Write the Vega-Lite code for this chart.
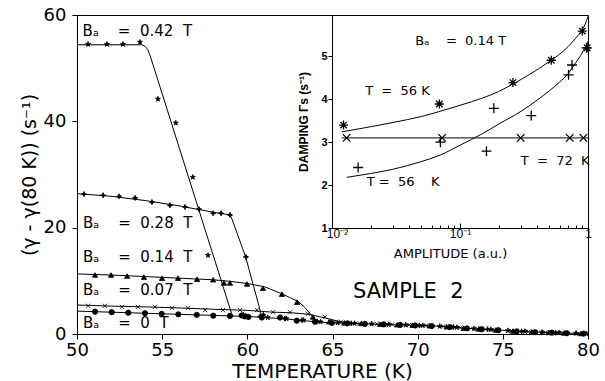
{
  "$schema": "https://vega.github.io/schema/vega-lite/v6.json",
  "width": 511,
  "height": 319,
  "autosize": {"type": "none"},
  "padding": {"left": 77, "top": 15, "right": 17, "bottom": 47},
  "background": "white",
  "config": {
    "view": {"stroke": "black", "strokeWidth": 1},
    "font": "DejaVu Sans",
    "axis": {"domainColor": "black", "tickColor": "black", "labelColor": "black", "titleColor": "black", "grid": false, "domainWidth": 1, "tickWidth": 1}
  },
  "datasets": {
    "mainLines": [
      {"s": "A", "T": 50.0, "Y": 54.4}, {"s": "A", "T": 53.8, "Y": 54.4}, {"s": "A", "T": 54.0, "Y": 54.1}, {"s": "A", "T": 54.15, "Y": 53.5}, {"s": "A", "T": 54.3, "Y": 52.3}, {"s": "A", "T": 59.1, "Y": 3.6},
      {"s": "B", "T": 50.0, "Y": 26.4}, {"s": "B", "T": 52.0, "Y": 25.9}, {"s": "B", "T": 54.0, "Y": 25.1}, {"s": "B", "T": 56.0, "Y": 24.1}, {"s": "B", "T": 58.0, "Y": 22.9}, {"s": "B", "T": 58.98, "Y": 22.4}, {"s": "B", "T": 59.1, "Y": 21.6}, {"s": "B", "T": 59.9, "Y": 14.5}, {"s": "B", "T": 60.85, "Y": 3.3},
      {"s": "C", "T": 50.0, "Y": 11.3}, {"s": "C", "T": 52.0, "Y": 11.1}, {"s": "C", "T": 54.0, "Y": 10.8}, {"s": "C", "T": 56.0, "Y": 10.5}, {"s": "C", "T": 58.0, "Y": 10.2}, {"s": "C", "T": 59.0, "Y": 9.9}, {"s": "C", "T": 60.0, "Y": 9.5}, {"s": "C", "T": 61.0, "Y": 8.9}, {"s": "C", "T": 62.0, "Y": 7.6}, {"s": "C", "T": 63.0, "Y": 6.1}, {"s": "C", "T": 63.4, "Y": 4.9}, {"s": "C", "T": 63.8, "Y": 3.4},
      {"s": "D", "T": 50.0, "Y": 5.45}, {"s": "D", "T": 52.0, "Y": 5.25}, {"s": "D", "T": 54.0, "Y": 5.1}, {"s": "D", "T": 56.0, "Y": 4.9}, {"s": "D", "T": 58.0, "Y": 4.65}, {"s": "D", "T": 60.0, "Y": 4.45}, {"s": "D", "T": 61.5, "Y": 4.1}, {"s": "D", "T": 62.6, "Y": 4.0}, {"s": "D", "T": 63.6, "Y": 3.7}, {"s": "D", "T": 64.6, "Y": 3.0}, {"s": "D", "T": 65.4, "Y": 2.35}, {"s": "D", "T": 66.0, "Y": 2.05},
      {"s": "E", "T": 50.0, "Y": 4.3}, {"s": "E", "T": 52.0, "Y": 4.1}, {"s": "E", "T": 54.0, "Y": 3.9}, {"s": "E", "T": 56.0, "Y": 3.7}, {"s": "E", "T": 58.0, "Y": 3.5}, {"s": "E", "T": 59.0, "Y": 3.4}, {"s": "E", "T": 60.0, "Y": 3.3}, {"s": "E", "T": 61.0, "Y": 3.1}, {"s": "E", "T": 62.0, "Y": 2.9}, {"s": "E", "T": 63.0, "Y": 2.6}, {"s": "E", "T": 64.0, "Y": 2.3}, {"s": "E", "T": 65.0, "Y": 2.1}, {"s": "E", "T": 66.0, "Y": 2.0}, {"s": "E", "T": 67.0, "Y": 1.9}, {"s": "E", "T": 68.0, "Y": 1.8}, {"s": "E", "T": 69.0, "Y": 1.7}, {"s": "E", "T": 70.0, "Y": 1.6}, {"s": "E", "T": 71.0, "Y": 1.5}, {"s": "E", "T": 72.0, "Y": 1.3}, {"s": "E", "T": 73.0, "Y": 1.05}, {"s": "E", "T": 74.0, "Y": 0.85}, {"s": "E", "T": 75.0, "Y": 0.7}, {"s": "E", "T": 76.0, "Y": 0.5}, {"s": "E", "T": 77.0, "Y": 0.35}, {"s": "E", "T": 78.0, "Y": 0.25}, {"s": "E", "T": 79.0, "Y": 0.15}, {"s": "E", "T": 80.0, "Y": 0.05}
    ],
    "mainPts": [
      {"s": "A", "T": 50.65, "Y": 54.5}, {"s": "A", "T": 51.76, "Y": 54.5}, {"s": "A", "T": 52.7, "Y": 54.5}, {"s": "A", "T": 53.7, "Y": 54.9}, {"s": "A", "T": 54.75, "Y": 44.2}, {"s": "A", "T": 55.8, "Y": 39.7}, {"s": "A", "T": 56.8, "Y": 29.5}, {"s": "A", "T": 57.69, "Y": 14.8}, {"s": "A", "T": 59.77, "Y": 3.6}, {"s": "A", "T": 59.96, "Y": 3.3},
      {"s": "A", "T": 61.2, "Y": 3.1}, {"s": "A", "T": 62.3, "Y": 2.9}, {"s": "A", "T": 63.3, "Y": 2.6}, {"s": "A", "T": 64.3, "Y": 2.3}, {"s": "A", "T": 65.3, "Y": 2.1}, {"s": "A", "T": 66.3, "Y": 2.0}, {"s": "A", "T": 67.3, "Y": 1.9}, {"s": "A", "T": 68.3, "Y": 1.8}, {"s": "A", "T": 69.3, "Y": 1.7}, {"s": "A", "T": 70.3, "Y": 1.6}, {"s": "A", "T": 71.3, "Y": 1.45}, {"s": "A", "T": 72.3, "Y": 1.25}, {"s": "A", "T": 73.3, "Y": 1.0}, {"s": "A", "T": 74.3, "Y": 0.85}, {"s": "A", "T": 75.3, "Y": 0.65}, {"s": "A", "T": 76.3, "Y": 0.5}, {"s": "A", "T": 77.3, "Y": 0.35}, {"s": "A", "T": 78.3, "Y": 0.25}, {"s": "A", "T": 79.3, "Y": 0.15}, {"s": "A", "T": 79.9, "Y": 0.05},
      {"s": "B", "T": 50.41, "Y": 26.3}, {"s": "B", "T": 51.53, "Y": 26.1}, {"s": "B", "T": 52.47, "Y": 25.9}, {"s": "B", "T": 53.41, "Y": 25.6}, {"s": "B", "T": 54.4, "Y": 24.8}, {"s": "B", "T": 55.46, "Y": 24.2}, {"s": "B", "T": 56.34, "Y": 23.9}, {"s": "B", "T": 57.16, "Y": 23.5}, {"s": "B", "T": 57.99, "Y": 22.7}, {"s": "B", "T": 58.46, "Y": 22.7}, {"s": "B", "T": 58.98, "Y": 22.4}, {"s": "B", "T": 59.92, "Y": 14.5}, {"s": "B", "T": 60.75, "Y": 3.3}, {"s": "B", "T": 60.94, "Y": 3.6}, {"s": "B", "T": 62.2, "Y": 2.9}, {"s": "B", "T": 63.2, "Y": 2.6},
      {"s": "B", "T": 64.1, "Y": 2.35}, {"s": "B", "T": 66.1, "Y": 2.0}, {"s": "B", "T": 68.1, "Y": 1.8}, {"s": "B", "T": 70.1, "Y": 1.6}, {"s": "B", "T": 72.1, "Y": 1.3}, {"s": "B", "T": 74.1, "Y": 0.9}, {"s": "B", "T": 76.1, "Y": 0.5}, {"s": "B", "T": 78.1, "Y": 0.25},
      {"s": "C", "T": 51.06, "Y": 11.1}, {"s": "C", "T": 52.0, "Y": 11.1}, {"s": "C", "T": 52.94, "Y": 10.9}, {"s": "C", "T": 53.93, "Y": 10.7}, {"s": "C", "T": 54.99, "Y": 10.5}, {"s": "C", "T": 55.93, "Y": 10.5}, {"s": "C", "T": 57.05, "Y": 10.3}, {"s": "C", "T": 57.99, "Y": 10.2}, {"s": "C", "T": 58.63, "Y": 9.6}, {"s": "C", "T": 58.98, "Y": 9.6}, {"s": "C", "T": 59.98, "Y": 9.4}, {"s": "C", "T": 60.92, "Y": 8.6}, {"s": "C", "T": 62.03, "Y": 7.5}, {"s": "C", "T": 62.92, "Y": 6.0},
      {"s": "C", "T": 63.85, "Y": 3.2}, {"s": "C", "T": 64.8, "Y": 2.3}, {"s": "C", "T": 65.7, "Y": 2.1}, {"s": "C", "T": 66.7, "Y": 2.0}, {"s": "C", "T": 67.8, "Y": 1.85}, {"s": "C", "T": 68.8, "Y": 1.75}, {"s": "C", "T": 69.7, "Y": 1.65}, {"s": "C", "T": 70.7, "Y": 1.55}, {"s": "C", "T": 71.7, "Y": 1.35}, {"s": "C", "T": 72.7, "Y": 1.1}, {"s": "C", "T": 73.6, "Y": 0.95}, {"s": "C", "T": 74.6, "Y": 0.75}, {"s": "C", "T": 75.6, "Y": 0.55}, {"s": "C", "T": 76.7, "Y": 0.4}, {"s": "C", "T": 77.7, "Y": 0.3}, {"s": "C", "T": 78.6, "Y": 0.2}, {"s": "C", "T": 79.6, "Y": 0.1},
      {"s": "D", "T": 50.65, "Y": 5.3}, {"s": "D", "T": 51.64, "Y": 5.3}, {"s": "D", "T": 52.64, "Y": 5.1}, {"s": "D", "T": 53.58, "Y": 5.1}, {"s": "D", "T": 54.58, "Y": 5.1}, {"s": "D", "T": 55.58, "Y": 4.9}, {"s": "D", "T": 56.52, "Y": 4.9}, {"s": "D", "T": 57.52, "Y": 4.5}, {"s": "D", "T": 58.57, "Y": 4.5}, {"s": "D", "T": 59.57, "Y": 4.5}, {"s": "D", "T": 60.57, "Y": 4.5}, {"s": "D", "T": 61.51, "Y": 4.1}, {"s": "D", "T": 62.51, "Y": 4.1}, {"s": "D", "T": 63.56, "Y": 3.8}, {"s": "D", "T": 64.56, "Y": 3.2},
      {"s": "D", "T": 65.5, "Y": 2.3}, {"s": "D", "T": 66.6, "Y": 2.0}, {"s": "D", "T": 67.6, "Y": 1.9}, {"s": "D", "T": 68.5, "Y": 1.8}, {"s": "D", "T": 69.5, "Y": 1.7}, {"s": "D", "T": 70.5, "Y": 1.6}, {"s": "D", "T": 71.5, "Y": 1.45}, {"s": "D", "T": 72.5, "Y": 1.2}, {"s": "D", "T": 73.5, "Y": 1.0}, {"s": "D", "T": 74.4, "Y": 0.8}, {"s": "D", "T": 75.5, "Y": 0.6}, {"s": "D", "T": 76.5, "Y": 0.45}, {"s": "D", "T": 77.5, "Y": 0.3}, {"s": "D", "T": 78.5, "Y": 0.2}, {"s": "D", "T": 79.4, "Y": 0.1},
      {"s": "E", "T": 51.06, "Y": 4.2}, {"s": "E", "T": 52.04, "Y": 4.1}, {"s": "E", "T": 53.01, "Y": 4.0}, {"s": "E", "T": 53.99, "Y": 3.9}, {"s": "E", "T": 54.97, "Y": 3.8}, {"s": "E", "T": 55.95, "Y": 3.7}, {"s": "E", "T": 57.03, "Y": 3.6}, {"s": "E", "T": 58.0, "Y": 3.45}, {"s": "E", "T": 58.98, "Y": 3.4}, {"s": "E", "T": 59.67, "Y": 3.5}, {"s": "E", "T": 59.85, "Y": 3.3}, {"s": "E", "T": 60.06, "Y": 3.2}, {"s": "E", "T": 60.85, "Y": 3.1}, {"s": "E", "T": 61.92, "Y": 3.1}, {"s": "E", "T": 62.9, "Y": 2.5}, {"s": "E", "T": 63.97, "Y": 2.3},
      {"s": "E", "T": 64.96, "Y": 2.1}, {"s": "E", "T": 65.88, "Y": 2.0}, {"s": "E", "T": 66.9, "Y": 1.9}, {"s": "E", "T": 67.99, "Y": 1.8}, {"s": "E", "T": 68.97, "Y": 1.7}, {"s": "E", "T": 69.85, "Y": 1.6}, {"s": "E", "T": 70.83, "Y": 1.5}, {"s": "E", "T": 71.9, "Y": 1.3}, {"s": "E", "T": 72.9, "Y": 1.05}, {"s": "E", "T": 73.76, "Y": 0.9}, {"s": "E", "T": 74.74, "Y": 0.72}, {"s": "E", "T": 75.82, "Y": 0.5}, {"s": "E", "T": 76.9, "Y": 0.35}, {"s": "E", "T": 77.88, "Y": 0.25}, {"s": "E", "T": 78.76, "Y": 0.15}, {"s": "E", "T": 79.74, "Y": 0.08}
    ],
    "mainText": [
      {"t": "B\u2090\u00a0\u00a0\u00a0\u00a0=\u00a0\u00a00.42\u00a0\u00a0T", "T": 50.33, "Y": 56.1},
      {"t": "B\u2090\u00a0\u00a0\u00a0\u00a0=\u00a0\u00a00.28\u00a0\u00a0T", "T": 50.35, "Y": 19.9},
      {"t": "B\u2090\u00a0\u00a0\u00a0\u00a0=\u00a0\u00a00.14\u00a0\u00a0T", "T": 50.35, "Y": 13.6},
      {"t": "B\u2090\u00a0\u00a0\u00a0\u00a0=\u00a0\u00a00.07\u00a0\u00a0T", "T": 50.35, "Y": 7.3},
      {"t": "B\u2090\u00a0\u00a0\u00a0\u00a0=\u00a0\u00a00\u00a0\u00a0T", "T": 50.35, "Y": 1.1}
    ],
    "sampleText": [{"t": "SAMPLE\u00a0\u00a02", "T": 66.2, "Y": 6.7}],
    "insetLines": [
      {"s": "u", "a": 0.0119, "v": 3.24}, {"s": "u", "a": 0.02, "v": 3.36}, {"s": "u", "a": 0.03, "v": 3.46}, {"s": "u", "a": 0.05, "v": 3.6}, {"s": "u", "a": 0.07, "v": 3.72}, {"s": "u", "a": 0.1, "v": 3.86}, {"s": "u", "a": 0.15, "v": 4.03}, {"s": "u", "a": 0.2, "v": 4.18}, {"s": "u", "a": 0.26, "v": 4.36}, {"s": "u", "a": 0.35, "v": 4.58}, {"s": "u", "a": 0.5, "v": 4.88}, {"s": "u", "a": 0.6, "v": 5.05}, {"s": "u", "a": 0.7, "v": 5.23}, {"s": "u", "a": 0.8, "v": 5.42}, {"s": "u", "a": 0.9, "v": 5.62}, {"s": "u", "a": 0.95, "v": 5.75}, {"s": "u", "a": 1.0, "v": 5.93},
      {"s": "l", "a": 0.013, "v": 2.18}, {"s": "l", "a": 0.02, "v": 2.27}, {"s": "l", "a": 0.03, "v": 2.37}, {"s": "l", "a": 0.05, "v": 2.55}, {"s": "l", "a": 0.07, "v": 2.7}, {"s": "l", "a": 0.1, "v": 2.93}, {"s": "l", "a": 0.15, "v": 3.2}, {"s": "l", "a": 0.2, "v": 3.42}, {"s": "l", "a": 0.3, "v": 3.72}, {"s": "l", "a": 0.4, "v": 3.98}, {"s": "l", "a": 0.5, "v": 4.2}, {"s": "l", "a": 0.6, "v": 4.4}, {"s": "l", "a": 0.7, "v": 4.6}, {"s": "l", "a": 0.8, "v": 4.85}, {"s": "l", "a": 0.9, "v": 5.08}, {"s": "l", "a": 1.0, "v": 5.35},
      {"s": "h", "a": 0.0119, "v": 3.1}, {"s": "h", "a": 1.0, "v": 3.1}
    ],
    "insetPts": [
      {"s": "st", "a": 0.0123, "v": 3.4}, {"s": "st", "a": 0.069, "v": 3.89}, {"s": "st", "a": 0.259, "v": 4.39}, {"s": "st", "a": 0.517, "v": 4.91}, {"s": "st", "a": 0.903, "v": 5.59}, {"s": "st", "a": 0.985, "v": 5.2},
      {"s": "pl", "a": 0.016, "v": 2.41}, {"s": "pl", "a": 0.0703, "v": 3.0}, {"s": "pl", "a": 0.161, "v": 2.79}, {"s": "pl", "a": 0.184, "v": 3.79}, {"s": "pl", "a": 0.36, "v": 3.62}, {"s": "pl", "a": 0.705, "v": 4.57}, {"s": "pl", "a": 0.75, "v": 4.8}, {"s": "pl", "a": 0.975, "v": 5.2},
      {"s": "x", "a": 0.013, "v": 3.1}, {"s": "x", "a": 0.0724, "v": 3.1}, {"s": "x", "a": 0.298, "v": 3.1}, {"s": "x", "a": 0.72, "v": 3.1}, {"s": "x", "a": 0.92, "v": 3.1}
    ],
    "insetText": [
      {"t": "B\u2090\u00a0\u00a0\u00a0\u00a0=\u00a0\u00a00.14\u00a0T", "a": 0.0448, "v": 5.27},
      {"t": "T\u00a0\u00a0=\u00a0\u00a056\u00a0K", "a": 0.01815, "v": 4.11},
      {"t": "T\u00a0\u00a0=\u00a0\u00a072\u00a0\u00a0K", "a": 0.2985, "v": 2.48},
      {"t": "T\u00a0=\u00a0\u00a056\u00a0\u00a0\u00a0\u00a0K", "a": 0.0187, "v": 1.99}
    ]
  },
  "layer": [
    {
      "data": {"name": "mainLines"},
      "mark": {"type": "line", "color": "black", "strokeWidth": 1, "clip": true},
      "encoding": {
        "x": {"field": "T", "type": "quantitative", "scale": {"domain": [50, 80], "nice": false, "zero": false},
          "axis": {"orient": "bottom", "values": [50, 55, 60, 65, 70, 75, 80], "tickSize": 5, "labelFontSize": 18, "labelFont": "DejaVu Sans", "labelPadding": 2, "labelFlush": false,
            "title": "TEMPERATURE (K)", "titleFontSize": 20, "titleFont": "DejaVu Sans", "titleFontWeight": "normal", "titleX": 245, "titleY": 43, "titleBaseline": "alphabetic", "titleAlign": "center"}},
        "y": {"field": "Y", "type": "quantitative", "scale": {"domain": [0, 60], "nice": false, "zero": false},
          "axis": {"orient": "left", "values": [0, 20, 40, 60], "tickSize": 5, "labelFontSize": 18, "labelFont": "DejaVu Sans", "labelPadding": 6, "labelFlush": false,
            "title": "(\u03b3 - \u03b3(80 K)) (s\u207b\u00b9)\u00a0\u00a0\u00a0\u00a0\u00a0\u00a0\u00a0", "titleFontSize": 19, "titleFont": "DejaVu Sans", "titleFontWeight": "normal", "titleAngle": -90, "titleX": -42, "titleBaseline": "alphabetic", "titleAlign": "center"}},
        "detail": {"field": "s", "type": "nominal"}
      }
    },
    {
      "data": {"name": "mainPts"},
      "mark": {"type": "point", "filled": true, "fill": "black", "stroke": "black", "strokeWidth": 0.8, "size": 28, "opacity": 1},
      "encoding": {
        "x": {"field": "T", "type": "quantitative", "scale": {"domain": [50, 80], "nice": false, "zero": false}, "axis": null},
        "y": {"field": "Y", "type": "quantitative", "scale": {"domain": [0, 60], "nice": false, "zero": false}, "axis": null},
        "shape": {"field": "s", "type": "nominal", "legend": null,
          "scale": {"domain": ["A", "B", "C", "D", "E"],
            "range": ["M0,-1L0.225,-0.309L0.951,-0.309L0.363,0.118L0.588,0.809L0,0.382L-0.588,0.809L-0.363,0.118L-0.951,-0.309L-0.225,-0.309Z",
              "M0,-1L0.3,-0.3L1,0L0.3,0.3L0,1L-0.3,0.3L-1,0L-0.3,-0.3Z",
              "triangle-up",
              "M-0.8,-0.8L0.8,0.8M-0.8,0.8L0.8,-0.8",
              "circle"]}}
      }
    },
    {
      "data": {"name": "mainText"},
      "mark": {"type": "text", "align": "left", "baseline": "alphabetic", "font": "DejaVu Sans", "fontSize": 15, "color": "black"},
      "encoding": {
        "x": {"field": "T", "type": "quantitative", "scale": {"domain": [50, 80], "nice": false, "zero": false}, "axis": null},
        "y": {"field": "Y", "type": "quantitative", "scale": {"domain": [0, 60], "nice": false, "zero": false}, "axis": null},
        "text": {"field": "t"}
      }
    },
    {
      "data": {"name": "sampleText"},
      "mark": {"type": "text", "align": "left", "baseline": "alphabetic", "font": "DejaVu Sans", "fontSize": 21, "color": "black"},
      "encoding": {
        "x": {"field": "T", "type": "quantitative", "scale": {"domain": [50, 80], "nice": false, "zero": false}, "axis": null},
        "y": {"field": "Y", "type": "quantitative", "scale": {"domain": [0, 60], "nice": false, "zero": false}, "axis": null},
        "text": {"field": "t"}
      }
    },
    {
      "data": {"name": "insetLines"},
      "mark": {"type": "line", "color": "black", "strokeWidth": 1, "interpolate": "monotone", "clip": true},
      "encoding": {
        "x": {"field": "a", "type": "quantitative", "scale": {"type": "log", "domain": [0.01, 1], "range": [255, 511], "nice": false},
          "axis": {"orient": "bottom", "offset": -106,
            "values": [0.01, 0.02, 0.03, 0.04, 0.05, 0.06, 0.07, 0.08, 0.09, 0.1, 0.2, 0.3, 0.4, 0.5, 0.6, 0.7, 0.8, 0.9, 1],
            "labelExpr": "datum.value == 0.01 ? '10\u207b\u00b2' : (datum.value == 0.1 ? '10\u207b\u00b9' : (datum.value == 1 ? '1' : ''))",
            "tickSize": {"condition": {"test": "datum.value == 0.01 || datum.value == 0.1 || datum.value == 1", "value": -5}, "value": -3},
            "labelOffset": {"condition": {"test": "datum.value == 0.01", "value": 5}, "value": 0},
            "labelFontSize": 12, "labelFont": "Liberation Sans", "labelPadding": 5, "labelFlush": false, "labelOverlap": false,
            "title": "AMPLITUDE (a.u.)", "titleFont": "DejaVu Sans", "titleFontSize": 13, "titleFontWeight": "normal", "titleX": 373, "titleY": 29, "titleBaseline": "alphabetic", "titleAlign": "center"}},
        "y": {"field": "v", "type": "quantitative", "scale": {"domain": [1, 5.965], "range": [213, 0], "nice": false, "zero": false},
          "axis": {"orient": "left", "offset": -255, "values": [1, 2, 3, 4, 5], "tickSize": 4,
            "labelFontSize": 11, "labelFont": "Liberation Sans", "labelFontWeight": "bold", "labelPadding": 1, "labelFlush": false,
            "title": "DAMPING \u0393s (s\u207b\u00b9)\u00a0\u00a0\u00a0\u00a0\u00a0\u00a0\u00a0\u00a0\u00a0", "titleFont": "Liberation Sans", "titleFontSize": 12, "titleFontWeight": "bold",
            "titleAngle": -90, "titleX": -25, "titleBaseline": "alphabetic", "titleAlign": "center"}},
        "detail": {"field": "s", "type": "nominal"}
      }
    },
    {
      "data": {"name": "insetPts"},
      "mark": {"type": "point", "filled": false, "stroke": "black", "strokeWidth": 1.3, "size": 100, "opacity": 1},
      "encoding": {
        "x": {"field": "a", "type": "quantitative", "scale": {"type": "log", "domain": [0.01, 1], "range": [255, 511], "nice": false}, "axis": null},
        "y": {"field": "v", "type": "quantitative", "scale": {"domain": [1, 5.965], "range": [213, 0], "nice": false, "zero": false}, "axis": null},
        "shape": {"field": "s", "type": "nominal", "legend": null,
          "scale": {"domain": ["st", "pl", "x"],
            "range": ["M0,-0.9L0,0.9M-0.9,0L0.9,0M-0.64,-0.64L0.64,0.64M-0.64,0.64L0.64,-0.64",
              "M-1,0L1,0M0,-1L0,1",
              "M-0.75,-0.75L0.75,0.75M-0.75,0.75L0.75,-0.75"]}}
      }
    },
    {
      "data": {"name": "insetText"},
      "mark": {"type": "text", "align": "left", "baseline": "alphabetic", "font": "DejaVu Sans", "fontSize": 13, "color": "black"},
      "encoding": {
        "x": {"field": "a", "type": "quantitative", "scale": {"type": "log", "domain": [0.01, 1], "range": [255, 511], "nice": false}, "axis": null},
        "y": {"field": "v", "type": "quantitative", "scale": {"domain": [1, 5.965], "range": [213, 0], "nice": false, "zero": false}, "axis": null},
        "text": {"field": "t"}
      }
    }
  ],
  "resolve": {"scale": {"x": "independent", "y": "independent", "shape": "independent"}}
}
